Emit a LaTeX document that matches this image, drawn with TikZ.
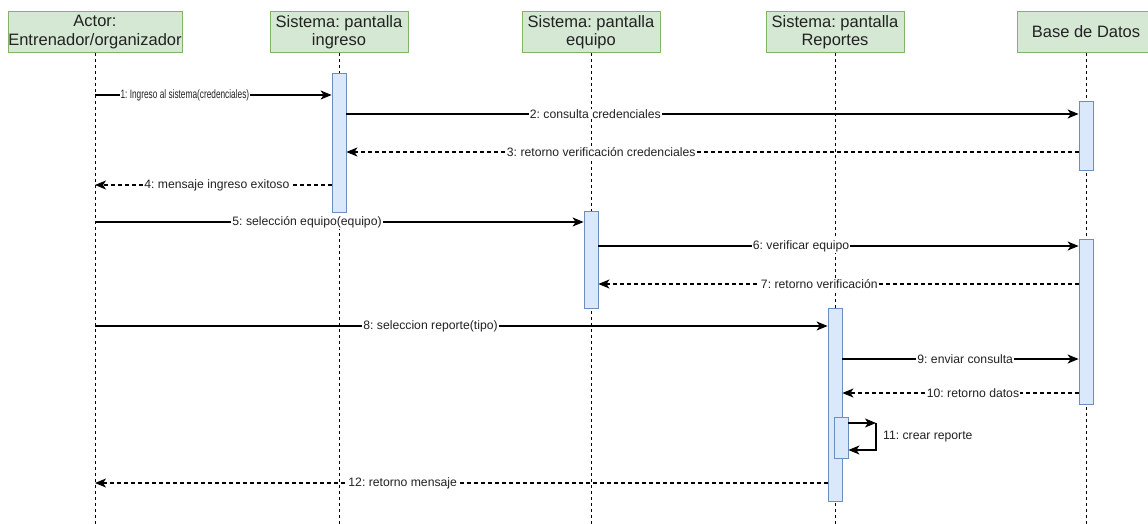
\documentclass[tikz,border=0pt]{standalone}
\usepackage{fontspec}
\setmainfont{Liberation Sans}
\newfontfamily\narrowfont[FakeStretch=0.68]{Liberation Sans}
\usetikzlibrary{arrows.meta}
\definecolor{hdrfill}{HTML}{D5E8D4}
\definecolor{hdrdraw}{HTML}{82B366}
\definecolor{actfill}{HTML}{DAE8FC}
\definecolor{actdraw}{HTML}{6C8EBF}
\definecolor{txt}{HTML}{222222}
\tikzset{
  hdr/.style={draw=hdrdraw, fill=hdrfill, line width=0.8pt, minimum width=138, minimum height=41,
    inner sep=0pt, align=center, text=txt, font=\fontsize{16.5}{18.5}\selectfont},
  life/.style={line width=1pt, dash pattern=on 3pt off 3pt},
  actbar/.style={draw=actdraw, fill=actfill, line width=0.8pt, minimum width=14, inner sep=0pt},
  msg/.style={line width=1.2pt, -{Stealth[length=11pt,width=9pt,inset=3pt]}},
  ret/.style={msg, dash pattern=on 4pt off 3pt},
  lbl/.style={fill=white, inner sep=1pt, text=txt, font=\fontsize{12.2}{14}\selectfont},
}
\begin{document}
\frenchspacing
\begin{tikzpicture}[x=1pt,y=-1pt]
\useasboundingbox (0,0) rectangle (1148,524);

% participants
\node[hdr, minimum width=174] (actor) at (95,32) {Actor:\\Entrenador/organizador};
\node[hdr] (ingreso) at (339,32) {Sistema: pantalla\\ingreso};
\node[hdr] (equipo) at (591,32) {Sistema: pantalla\\equipo};
\node[hdr] (reportes) at (835,32) {Sistema: pantalla\\Reportes};
\node[hdr] (bd) at (1086,32) {Base de Datos};

% lifeline ends
\coordinate (actorEnd) at (95,524);
\coordinate (ingresoEnd) at (339,524);
\coordinate (equipoEnd) at (591,524);
\coordinate (reportesEnd) at (835,524);
\coordinate (bdEnd) at (1086,524);

\draw[life] (actor.south) -- (actorEnd);
\draw[life] (ingreso.south) -- (ingresoEnd);
\draw[life] (equipo.south) -- (equipoEnd);
\draw[life] (reportes.south) -- (reportesEnd);
\draw[life] (bd.south) -- (bdEnd);

% activation bars
\node[actbar, minimum height=139] (ing1) at (339,142.5) {};
\node[actbar, minimum height=69] (bd1) at (1086,135.5) {};
\node[actbar, minimum height=97] (eq1) at (591,259.5) {};
\node[actbar, minimum height=165] (bd2) at (1086,321.5) {};
\node[actbar, minimum height=193] (rep1) at (835,404.5) {};
\node[actbar, minimum height=41] (rep2) at (841,437.5) {};

% message anchors on the actor lifeline
\coordinate (m1) at (95,95);
\coordinate (m4) at (95,185);
\coordinate (m5) at (95,222);
\coordinate (m8) at (95,326);
\coordinate (m12) at (95,483);

% messages
\draw[msg] (m1) -- node[lbl, pos=0.38] {\narrowfont 1: Ingreso al sistema(credenciales)} (m1 -| ing1.west);
\coordinate (m2) at (ing1.east |- 0,114);
\draw[msg] (m2) -- node[lbl, pos=0.34] {2: consulta credenciales} (m2 -| bd1.west);
\coordinate (m3) at (bd1.west |- 0,152);
\draw[ret] (m3) -- node[lbl, pos=0.652] {3: retorno verificación credenciales} (m3 -| ing1.east);
\draw[ret] (m4 -| ing1.west) -- node[lbl, pos=0.485] {4: mensaje ingreso exitoso} (m4);
\draw[msg] (m5) -- node[lbl, pos=0.434] {5: selección equipo(equipo)} (m5 -| eq1.west);
\coordinate (m6) at (eq1.east |- 0,246);
\draw[msg] (m6) -- node[lbl, pos=0.422] {6: verificar equipo} (m6 -| bd2.west);
\coordinate (m7) at (bd2.west |- 0,284);
\draw[ret] (m7) -- node[lbl, pos=0.54] {7: retorno verificación} (m7 -| eq1.east);
\draw[msg] (m8) -- node[lbl, pos=0.458] {8: seleccion reporte(tipo)} (m8 -| rep1.west);
\coordinate (m9) at (rep1.east |- 0,359);
\draw[msg] (m9) -- node[lbl, pos=0.52] {9: enviar consulta} (m9 -| bd2.west);
\coordinate (m10) at (bd2.west |- 0,393);
\draw[ret] (m10) -- node[lbl, pos=0.447] {10: retorno datos} (m10 -| rep1.east);

% self call
\coordinate (s1) at (rep2.east |- 0,423);
\coordinate (s2) at (876,423);
\coordinate (s3) at (rep2.east |- 0,450);
\draw[msg] (s1) -- (s2);
\draw[msg] (s2) |- (s3);
\node[lbl, anchor=west] (l11) at (882,437) {11: crear reporte};

\draw[ret] (m12 -| rep1.west) -- node[lbl, pos=0.58] {12: retorno mensaje} (m12);
\end{tikzpicture}
\end{document}
